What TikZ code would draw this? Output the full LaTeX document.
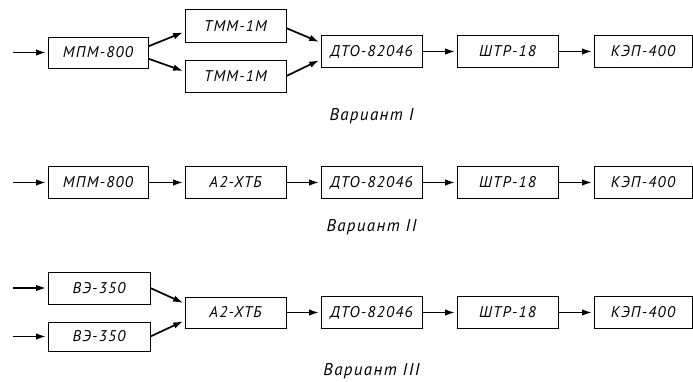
\documentclass[tikz,border=0pt]{standalone}
\usepackage{fontspec}
\setmainfont{PT Sans}
\newfontfamily\gost[LetterSpace=8]{PT Sans}
\usepackage{tikz}
\usetikzlibrary{arrows.meta}

\begin{document}
\begin{tikzpicture}[x=1pt, y=-1pt,
    unit/.style={draw, line width=0.9pt, minimum width=101pt, minimum height=32pt,
                 inner sep=0pt, font=\gost\itshape\fontsize{15.5}{18}\selectfont},
    flow/.style={-{Latex[length=10pt,width=6.5pt]}, line width=1.7pt, shorten >=1.5pt},
    caption/.style={font=\gost\itshape\fontsize{17}{20}\selectfont}]
    \useasboundingbox (0,0) rectangle (693,382);

    % Common tail of every variant
    \foreach \r/\y in {1/51.5, 2/182.5, 3/312.5} {
      \node[unit] (dto\r) at (371.5,\y) {ДТО-82046};
      \node[unit] (shtr\r) at (507.5,\y) {ШТР-18};
      \node[unit, minimum width=98pt] (kep\r) at (643,\y) {КЭП-400};
      \draw[flow] (dto\r) -- (shtr\r);
      \draw[flow] (shtr\r) -- (kep\r);
    }

    % Variant I
    \coordinate (in1) at (13,52.5);
    \node[unit, minimum width=100pt, minimum height=31pt] (mpm1) at (98,52.5) {МПМ-800};
    \node[unit, minimum height=33pt] (tmmA) at (235.5,25.5) {ТММ-1М};
    \node[unit] (tmmB) at (235.5,76) {ТММ-1М};
    \draw[flow] (in1) -- (mpm1);
    \draw[flow] (mpm1.7) -- (tmmA.187);
    \draw[flow] (mpm1.-7) -- (tmmB.175);
    \draw[flow] (tmmA.-3) -- (dto1.170);
    \draw[flow] (tmmB.0) -- (dto1.189);
    \node[caption] (var1) at (371.5,116) {Вариант I};

    % Variant II
    \coordinate (in2) at (13,182.5);
    \node[unit, minimum width=100pt] (mpm2) at (98,182.5) {МПМ-800};
    \node[unit] (xtb2) at (235.5,182.5) {А2-ХТБ};
    \draw[flow] (in2) -- (mpm2);
    \draw[flow] (mpm2) -- (xtb2);
    \draw[flow] (xtb2) -- (dto2);
    \node[caption] (var2) at (371.5,227) {Вариант II};

    % Variant III
    \coordinate (in3a) at (13,288);
    \coordinate (in3b) at (13,336.5);
    \node[unit, minimum width=102pt] (ve3a) at (99,288) {ВЭ-350};
    \node[unit, minimum width=102pt, minimum height=29pt] (ve3b) at (99,336.5) {ВЭ-350};
    \node[unit, minimum height=31pt] (xtb3) at (235.5,312.5) {А2-ХТБ};
    \draw[flow] (in3a) -- (ve3a);
    \draw[flow] (in3b) -- (ve3b);
    \draw[flow] (ve3a.east) -- (xtb3.170);
    \draw[flow] (ve3b.east) -- (xtb3.189);
    \draw[flow] (xtb3) -- (dto3);
    \node[caption] (var3) at (371.5,371) {Вариант III};
\end{tikzpicture}
\end{document}
